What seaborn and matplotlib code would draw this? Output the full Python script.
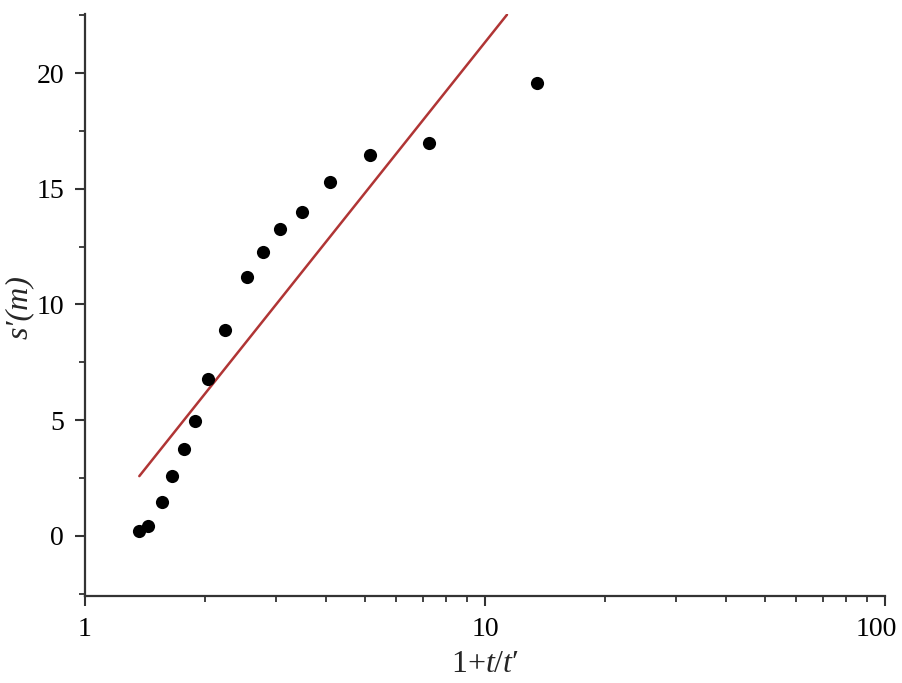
import numpy as np
import pandas as pd
import matplotlib
matplotlib.use("Agg")
import matplotlib.pyplot as plt
import matplotlib.ticker as mticker
import matplotlib.transforms as mtransforms
import seaborn as sns

# data
x_obs = [1.367, 1.44, 1.56, 1.65, 1.77, 1.88, 2.03, 2.24, 2.54, 2.78, 3.07, 3.48, 4.10, 5.15, 7.25, 13.5]
s_obs = [0.19, 0.42, 1.46, 2.58, 3.75, 4.96, 6.76, 8.91, 11.17, 12.26, 13.27, 13.98, 15.31, 16.46, 16.96, 19.55]
x_fit = [1.367, 11.35]
s_fit = [2.58, 22.52]
x_ticks = [1, 10, 100]
y_ticks = [0, 5, 10, 15, 20]

sns.set_style("ticks")
plt.rcParams['font.family'] = ['Liberation Serif', 'DejaVu Serif']
plt.rcParams['mathtext.fontset'] = 'custom'
plt.rcParams['mathtext.rm'] = 'Liberation Serif'
plt.rcParams['mathtext.it'] = 'Liberation Serif:italic'

fig = plt.figure(figsize=(9.03, 6.83), dpi=100)
ax = fig.add_axes([85/903, 1 - 596/683, 800/903, 582/683])

df_obs = pd.DataFrame({"x": x_obs, "s": s_obs})
df_fit = pd.DataFrame({"x": x_fit, "s": s_fit})

sns.lineplot(data=df_fit, x="x", y="s", ax=ax, color="#B03535", linewidth=1.8, zorder=2)
sns.scatterplot(data=df_obs, x="x", y="s", ax=ax, color="black", s=90, edgecolor="black", linewidth=0, zorder=3)

ax.set_xscale("log")
ax.set_xlim(1, 100)
ax.set_ylim(-2.6, 22.55)
ax.set_xticks(x_ticks)
ax.xaxis.set_major_formatter(mticker.FixedFormatter([str(t) for t in x_ticks]))
ax.xaxis.set_minor_locator(mticker.LogLocator(base=10, subs=np.arange(2, 10)))
ax.xaxis.set_minor_formatter(mticker.NullFormatter())
ax.set_yticks(y_ticks)
ax.yaxis.set_minor_locator(mticker.MultipleLocator(2.5))

for side in ["top", "right"]:
    ax.spines[side].set_visible(False)
for side in ["left", "bottom"]:
    ax.spines[side].set_color("#333333")
    ax.spines[side].set_linewidth(1.6)

ax.tick_params(axis="both", which="major", length=7, width=1.5, color="#333333",
               labelsize=20, labelcolor="black", direction="out", pad=8)
ax.tick_params(axis="both", which="minor", length=4, width=1.3, color="#333333", direction="out")

# nudge the last x tick label left so it stays inside the figure
fig.canvas.draw()
last = ax.get_xticklabels()[-1]
last.set_transform(last.get_transform() + mtransforms.ScaledTranslation(-9/100, 0, fig.dpi_scale_trans))

ax.set_xlabel("1+$t$/$t$\u2032", fontsize=23, labelpad=6)
ax.set_ylabel("")
fig.text(19/903, 1 - 307/683, "s\u2032(m)", fontsize=23, fontstyle="italic",
         rotation=90, ha="center", va="center")
ax.grid(False)

fig.savefig("out.png", dpi=100)
